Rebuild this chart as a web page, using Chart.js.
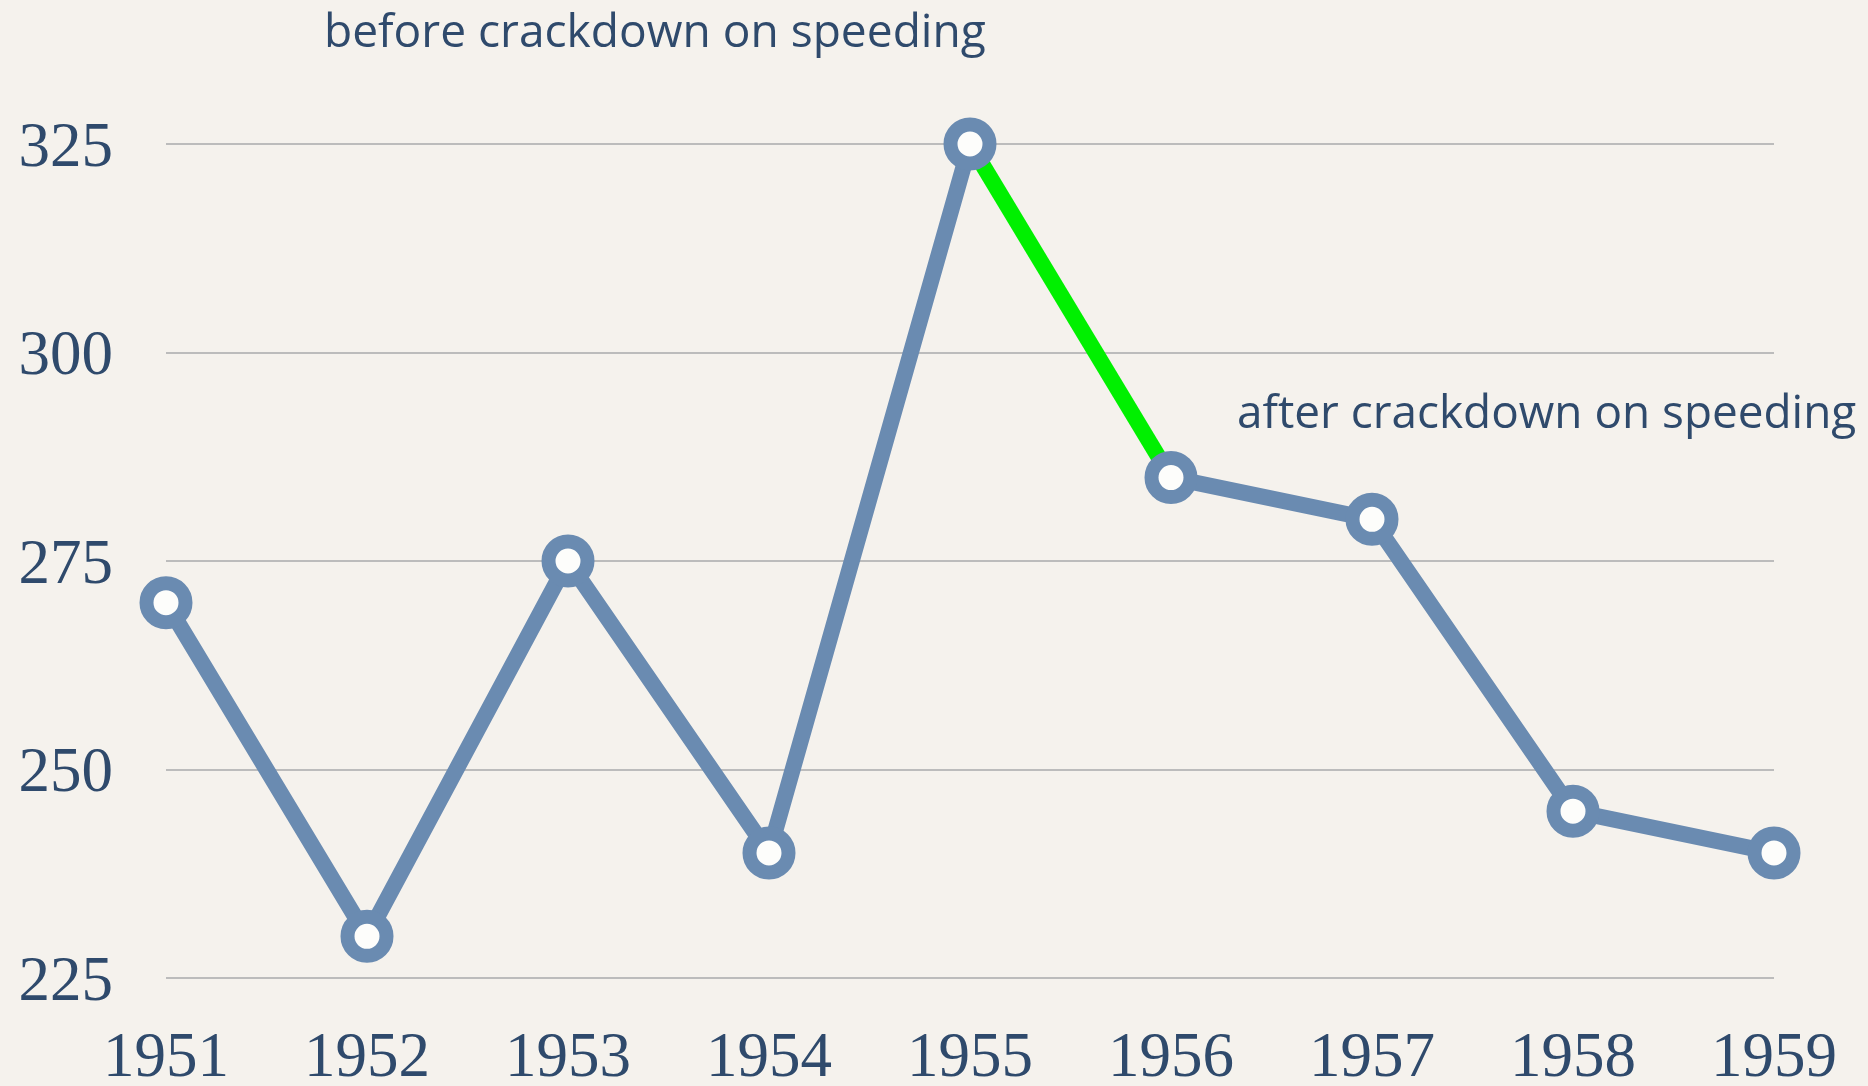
<!DOCTYPE html>
<html>
<head>
<meta charset="utf-8">
<script src="https://cdn.jsdelivr.net/npm/chart.js@4.4.1/dist/chart.umd.min.js"></script>
<style>
  html, body { margin: 0; padding: 0; background: #f5f2ed; }
  #wrap { width: 1868px; height: 1086px; position: relative; }
</style>
</head>
<body>
<div id="wrap"><canvas id="chart" width="1868" height="1086"></canvas></div>
<script>
// data
const years = ["1951", "1952", "1953", "1954", "1955", "1956", "1957", "1958", "1959"];
const deaths = [270, 230, 275, 240, 325, 285, 280, 245, 240];
const yTicks = [225, 250, 275, 300, 325];
const highlightYears = ["1955", "1956"];
const noteTexts = ["before crackdown on speeding", "after crackdown on speeding"];

const INK = "#2f4a6c";
const LINE = "#6a8bb1";
const GREEN = "#00f000";
const SERIF = '"Liberation Serif", "DejaVu Serif", serif';
const SANS = '"Open Sans", "Lato", sans-serif';

const isHighlight = (ctx) =>
  highlightYears.includes(years[ctx.p0DataIndex]) && highlightYears.includes(years[ctx.p1DataIndex]);

// free text notes, font size fitted so each line spans the given width
const notesPlugin = {
  id: "notesPlugin",
  afterDraw(chart, args, opts) {
    const ctx = chart.ctx;
    ctx.save();
    ctx.fillStyle = INK;
    ctx.textAlign = "left";
    ctx.textBaseline = "alphabetic";
    opts.items.forEach((it) => {
      ctx.font = `400 40px ${SANS}`;
      const size = 40 * it.w / ctx.measureText(it.text).width;
      ctx.font = `400 ${size.toFixed(1)}px ${SANS}`;
      ctx.fillText(it.text, it.x, it.y);
    });
    ctx.restore();
  }
};

new Chart(document.getElementById("chart"), {
  type: "line",
  data: {
    labels: years,
    datasets: [
      {
        data: deaths,
        borderColor: LINE,
        borderWidth: 16,
        borderJoinStyle: "round",
        tension: 0,
        segment: {
          borderColor: (ctx) => (isHighlight(ctx) ? GREEN : undefined)
        },
        pointRadius: 19.5,
        pointHoverRadius: 19.5,
        pointBorderWidth: 14,
        pointHoverBorderWidth: 14,
        pointBorderColor: LINE,
        pointBackgroundColor: "#fdfdfb",
        clip: false
      }
    ]
  },
  options: {
    responsive: false,
    animation: false,
    events: [],
    layout: { padding: { top: 144, right: 94, left: 0, bottom: 0 } },
    plugins: {
      legend: { display: false },
      tooltip: { enabled: false },
      notesPlugin: {
        items: [
          { text: noteTexts[0], x: 324, y: 47, w: 662 },
          { text: noteTexts[1], x: 1237, y: 428, w: 620 }
        ]
      }
    },
    scales: {
      x: {
        offset: false,
        grid: { display: false, drawTicks: false },
        border: { display: false },
        afterFit(scale) {
          scale.height = 108;
          scale.paddingLeft = 0;
          scale.paddingRight = 0;
        },
        ticks: {
          color: INK,
          padding: 44,
          maxRotation: 0,
          font: { family: SERIF, size: 63 }
        }
      },
      y: {
        min: 225,
        max: 325,
        afterBuildTicks(scale) { scale.ticks = yTicks.map((v) => ({ value: v })); },
        afterFit(scale) {
          scale.width = 166;
          scale.paddingTop = 0;
          scale.paddingBottom = 0;
        },
        grid: { color: "#bcbcbc", lineWidth: 2, drawTicks: false },
        border: { display: false },
        ticks: {
          color: INK,
          padding: 53,
          labelOffset: 5,
          font: { family: SERIF, size: 63 }
        }
      }
    }
  },
  plugins: [notesPlugin]
});
</script>
</body>
</html>
